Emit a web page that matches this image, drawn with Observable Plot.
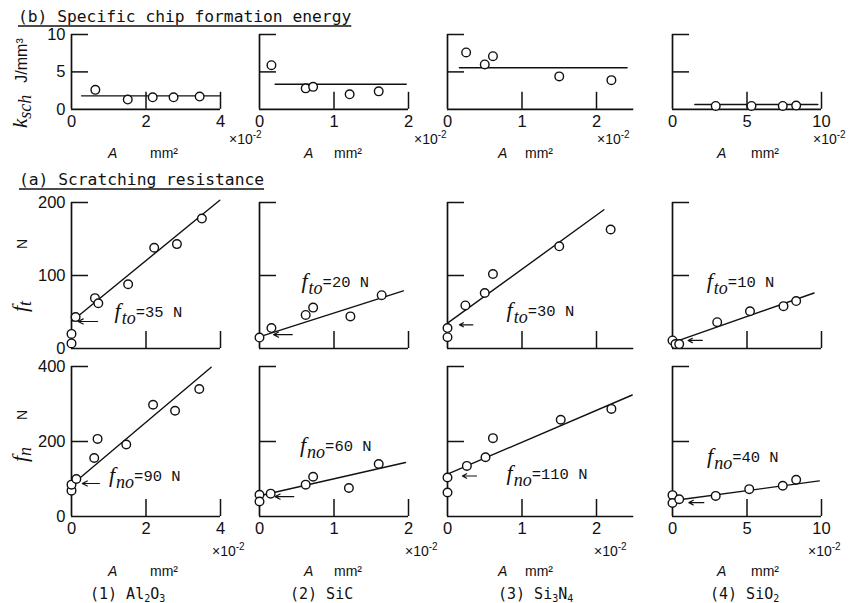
<!DOCTYPE html>
<html><head><meta charset="utf-8">
<script src="https://cdn.jsdelivr.net/npm/d3@7"></script>
<script src="https://cdn.jsdelivr.net/npm/@observablehq/plot@0.6"></script>
<style>
html,body{margin:0;padding:0;background:#fff;}
#root{position:relative;width:855px;height:603px;overflow:hidden;background:#fff;}
.panel{position:absolute;}
</style></head><body><div id="root"></div>
<script>
// ---------------- DATA ----------------
const materials = ["Al2O3", "SiC", "Si3N4", "SiO2"];
const xTickVals = [[0, 2, 4], [0, 1, 2], [0, 1, 2], [0, 5, 10]];
const xAxisMax = [4, 2, 2.5, 10];
const xNominalMax = [4, 2, 2, 10];
const yTicksK = [0, 5, 10];
const yTicksT = [0, 100, 200];
const yTicksN = [0, 200, 400];

// (b) specific chip formation energy k_sch [J/mm3] vs A [x10^-2 mm2]
const kA_Al2O3 = [0.64, 1.51, 2.18, 2.74, 3.44];
const k_Al2O3  = [2.6, 1.3, 1.6, 1.6, 1.7];
const kA_SiC   = [0.16, 0.62, 0.72, 1.21, 1.6];
const k_SiC    = [5.9, 2.8, 3.0, 2.0, 2.4];
const kA_Si3N4 = [0.25, 0.5, 0.61, 1.5, 2.2];
const k_Si3N4  = [7.6, 6.0, 7.1, 4.4, 3.9];
const kA_SiO2  = [2.9, 5.3, 7.4, 8.3];
const k_SiO2   = [0.45, 0.45, 0.45, 0.5];
const kMeanLevel = [1.8, 3.35, 5.55, 0.65];
const kMeanFrom  = [0.27, 0.21, 0.16, 1.5];
const kMeanTo    = [4.0, 1.97, 2.41, 9.75];

// (a) scratching resistance: tangential force f_t [N]
const tA_Al2O3 = [0, 0, 0.11, 0.63, 0.72, 1.52, 2.22, 2.83, 3.5];
const ft_Al2O3 = [7, 20, 43, 69, 62, 88, 138, 143, 178];
const tA_SiC   = [0, 0.16, 0.62, 0.72, 1.22, 1.64];
const ft_SiC   = [15, 28, 46, 56, 44, 73];
const tA_Si3N4 = [0, 0, 0.24, 0.5, 0.61, 1.5, 2.19];
const ft_Si3N4 = [15.5, 28, 59, 76, 102, 140, 163];
const tA_SiO2  = [0, 0.2, 0.45, 3.0, 5.2, 7.45, 8.3];
const ft_SiO2  = [11, 6, 6, 36, 51, 58, 65];
const ftFitA0 = [0, 0.06, 0, 0.1],   ftFitA1 = [3.98, 1.93, 2.1, 9.5];
const ftFitV0 = [37, 18, 34.7, 8.7], ftFitV1 = [203, 79, 190, 76];
const fto = [35, 20, 30, 10];
const ftArrowFrom = [0.7, 0.44, 0.34, 2.0], ftArrowTo = [0.18, 0.19, 0.16, 1.05], ftArrowAt = [37, 19, 32.5, 11];
const ftLabelA = [1.17, 0.57, 0.8, 2.33], ftLabelV = [41, 82, 43, 82];

// (a) scratching resistance: normal force f_n [N]
const nA_Al2O3 = [0, 0, 0.13, 0.61, 0.7, 1.47, 2.19, 2.78, 3.43];
const fn_Al2O3 = [69, 85, 100, 156, 207, 192, 298, 282, 340];
const nA_SiC   = [0, 0, 0.15, 0.62, 0.72, 1.2, 1.6];
const fn_SiC   = [58, 40, 61, 85, 106, 76, 140];
const nA_Si3N4 = [0, 0, 0.26, 0.51, 0.61, 1.52, 2.2];
const fn_Si3N4 = [104, 64, 135, 158, 209, 258, 287];
const nA_SiO2  = [0, 0, 0.45, 2.9, 5.15, 7.4, 8.3];
const fn_SiO2  = [57, 36, 46, 55, 73, 82, 98];
const fnFitA0 = [0.05, 0.06, 0, 0.34], fnFitA1 = [3.75, 1.96, 2.48, 9.85];
const fnFitV0 = [88, 58, 113, 44],     fnFitV1 = [398, 144, 324, 95];
const fno = [90, 60, 110, 40];
const fnArrowFrom = [0.75, 0.46, 0.39, 2.1], fnArrowTo = [0.29, 0.21, 0.2, 1.1], fnArrowAt = [88, 53, 108, 37];
const fnLabelA = [1.02, 0.55, 0.8, 2.35], fnLabelV = [91, 171, 95, 141];

// ---------------- LAYOUT ----------------
const colX = [71, 259, 446.5, 672];
const spanX = 149;
const rows = {
  b: {y0: 108.3, yTop: 33.5, ymax: 10, yTicks: yTicksK, xLabels: true},
  t: {y0: 348, yTop: 202, ymax: 200, yTicks: yTicksT, xLabels: false},
  n: {y0: 516, yTop: 366, ymax: 400, yTicks: yTicksN, xLabels: true}
};
const INK = "#111";
const root = document.getElementById("root");

function addPanel(rowKey, col, A, V, fit, arrow, label) {
  const r = rows[rowKey];
  const mL = 60, mR = 70, mT = 20, mB = 60;
  const W = mL + spanX + mR;
  const ph = r.y0 - r.yTop;
  const H = mT + ph + mB;
  const xmax = xNominalMax[col];
  const pxPerX = spanX / xmax, pxPerY = ph / r.ymax;
  const tick = 17;
  const pts = A.map((a, i) => ({A: a, v: V[i]}));
  const marks = [
    Plot.ruleX([0], {y1: 0, y2: r.ymax, stroke: INK, strokeWidth: 1.7}),
    Plot.ruleY([0], {x1: 0, x2: xAxisMax[col], stroke: INK, strokeWidth: 1.7}),
    Plot.ruleY(r.yTicks.filter(d => d > 0), {x1: 0, x2: tick / pxPerX, stroke: INK, strokeWidth: 1.5}),
    Plot.ruleX(xTickVals[col].filter(d => d > 0), {y1: 0, y2: tick / pxPerY, stroke: INK, strokeWidth: 1.5}),
    Plot.line(fit, {x: "A", y: "v", stroke: INK, strokeWidth: 1.4})
  ];
  if (arrow) marks.push(Plot.arrow([arrow], {x1: "from", x2: "to", y1: "at", y2: "at", stroke: INK, strokeWidth: 1.2, headLength: 7, headAngle: 55}));
  marks.push(Plot.dot(pts, {x: "A", y: "v", r: 4.3, stroke: INK, fill: "white", strokeWidth: 1.4}));
  if (col === 0) marks.push(Plot.axisY({ticks: r.yTicks, tickSize: 0, tickPadding: 6, tickFormat: "d", label: null, fill: INK}));
  if (r.xLabels) marks.push(Plot.axisX({ticks: xTickVals[col], tickSize: 0, tickPadding: 6, tickFormat: "d", label: null, fill: INK}));
  const plot = Plot.plot({
    width: W, height: H,
    marginLeft: mL, marginRight: mR, marginTop: mT, marginBottom: mB,
    x: {domain: [0, xmax], axis: r.xLabels ? undefined : null},
    y: {domain: [0, r.ymax], axis: col === 0 ? undefined : null},
    style: {background: "transparent", overflow: "visible", maxWidth: "none", fontFamily: "'Liberation Sans', Arial, sans-serif", fontSize: "16.5px", color: INK},
    marks
  });
  if (label) {
    const sx = plot.scale("x"), sy = plot.scale("y");
    const px = sx.apply(label.A), py = sy.apply(label.v);
    const t = d3.select(plot).append("text").attr("x", px).attr("y", py).attr("text-anchor", "start").attr("fill", INK);
    t.append("tspan").text("f").attr("font-family", "'Liberation Serif', serif").attr("font-style", "italic").attr("font-size", 22);
    t.append("tspan").text(label.sub).attr("font-family", "'Liberation Serif', serif").attr("font-style", "italic").attr("font-size", 18).attr("dy", 6).attr("dx", 1);
    t.append("tspan").text("=" + label.value + " N").attr("font-family", "'Liberation Mono', monospace").attr("font-size", 15.5).attr("dy", -7);
  }
  const div = document.createElement("div");
  div.className = "panel";
  div.style.left = (colX[col] - mL) + "px";
  div.style.top = (r.yTop - mT) + "px";
  div.appendChild(plot);
  root.appendChild(div);
}

const kA = [kA_Al2O3, kA_SiC, kA_Si3N4, kA_SiO2], kV = [k_Al2O3, k_SiC, k_Si3N4, k_SiO2];
const tA = [tA_Al2O3, tA_SiC, tA_Si3N4, tA_SiO2], tV = [ft_Al2O3, ft_SiC, ft_Si3N4, ft_SiO2];
const nA = [nA_Al2O3, nA_SiC, nA_Si3N4, nA_SiO2], nV = [fn_Al2O3, fn_SiC, fn_Si3N4, fn_SiO2];

for (let c = 0; c < 4; c++) {
  addPanel("b", c, kA[c], kV[c],
    [{A: kMeanFrom[c], v: kMeanLevel[c]}, {A: kMeanTo[c], v: kMeanLevel[c]}], null, null);
  addPanel("t", c, tA[c], tV[c],
    [{A: ftFitA0[c], v: ftFitV0[c]}, {A: ftFitA1[c], v: ftFitV1[c]}],
    {from: ftArrowFrom[c], to: ftArrowTo[c], at: ftArrowAt[c]},
    {A: ftLabelA[c], v: ftLabelV[c], sub: "to", value: fto[c]});
  addPanel("n", c, nA[c], nV[c],
    [{A: fnFitA0[c], v: fnFitV0[c]}, {A: fnFitA1[c], v: fnFitV1[c]}],
    {from: fnArrowFrom[c], to: fnArrowTo[c], at: fnArrowAt[c]},
    {A: fnLabelA[c], v: fnLabelV[c], sub: "no", value: fno[c]});
}

// ---------------- TEXT OVERLAY ----------------
const ov = d3.select(root).append("svg").attr("width", 855).attr("height", 603)
  .style("position", "absolute").style("left", "0px").style("top", "0px").style("overflow", "visible")
  .attr("fill", INK);

function title(txt, x, y) {
  const t = ov.append("text").attr("x", x).attr("y", y).attr("font-family", "'DejaVu Sans Mono', monospace").attr("font-size", 16.3).text(txt);
  const w = t.node().getComputedTextLength();
  ov.append("line").attr("x1", x).attr("x2", x + w).attr("y1", y + 4).attr("y2", y + 4).attr("stroke", INK).attr("stroke-width", 1.5);
}
title("(b) Specific chip formation energy", 18, 22);
title("(a) Scratching resistance", 19, 185);

// rotated y-axis labels
function rot(x, y, anchor) {
  return ov.append("text").attr("transform", `translate(${x},${y}) rotate(-90)`).attr("text-anchor", anchor);
}
{
  const t = rot(27, 128, "start");
  t.append("tspan").text("k").attr("font-family", "'Liberation Serif', serif").attr("font-style", "italic").attr("font-size", 21);
  t.append("tspan").text("sch").attr("font-family", "'Liberation Serif', serif").attr("font-style", "italic").attr("font-size", 18).attr("dy", 4);
  t.append("tspan").text("J/mm³").attr("font-family", "'Liberation Sans', sans-serif").attr("font-size", 16).attr("dy", -4).attr("dx", 12);
}
function fLabel(yBottom, sub, yN) {
  const t = rot(27, yBottom, "start");
  t.append("tspan").text("f").attr("font-family", "'Liberation Serif', serif").attr("font-style", "italic").attr("font-size", 22);
  t.append("tspan").text(sub).attr("font-family", "'Liberation Serif', serif").attr("font-style", "italic").attr("font-size", 18).attr("dy", 4);
  rot(27, yN, "middle").attr("font-family", "'Liberation Sans', sans-serif").attr("font-size", 14).text("N");
}
fLabel(312, "t", 244);
fLabel(462, "n", 415);

// x-axis unit labels
const aX = [108, 304, 498, 717], mmX = [150, 334, 525, 751];
const expB = [229, 414, 597, 813], expN = [212, 405, 594, 808];
function unitLabel(c, y) {
  ov.append("text").attr("x", aX[c]).attr("y", y).attr("font-family", "'Liberation Sans', sans-serif").attr("font-style", "italic").attr("font-size", 14).text("A");
  ov.append("text").attr("x", mmX[c]).attr("y", y).attr("font-family", "'Liberation Sans', sans-serif").attr("font-size", 14).text("mm²");
}
function expLabel(x, y) {
  const t = ov.append("text").attr("x", x).attr("y", y).attr("font-family", "'Liberation Sans', sans-serif").attr("font-size", 14);
  t.append("tspan").text("×10");
  t.append("tspan").text("-2").attr("font-size", 10).attr("dy", -6);
}
for (let c = 0; c < 4; c++) {
  unitLabel(c, 158);
  unitLabel(c, 576);
  expLabel(expB[c], 144);
  expLabel(expN[c], 556);
}

// material captions
const capX = [90, 290, 498, 710];
const capParts = [
  [["(1) Al", 0], ["2", 1], ["O", 0], ["3", 1]],
  [["(2) SiC", 0]],
  [["(3) Si", 0], ["3", 1], ["N", 0], ["4", 1]],
  [["(4) SiO", 0], ["2", 1]]
];
capParts.forEach((parts, c) => {
  const t = ov.append("text").attr("x", capX[c]).attr("y", 599).attr("font-family", "'DejaVu Sans Mono', monospace").attr("font-size", 15);
  let prev = 0;
  parts.forEach(([s, sub]) => {
    const sp = t.append("tspan").text(s).attr("dy", (sub - prev) * 3);
    if (sub) sp.attr("font-size", 10);
    prev = sub;
  });
});
</script></body></html>
